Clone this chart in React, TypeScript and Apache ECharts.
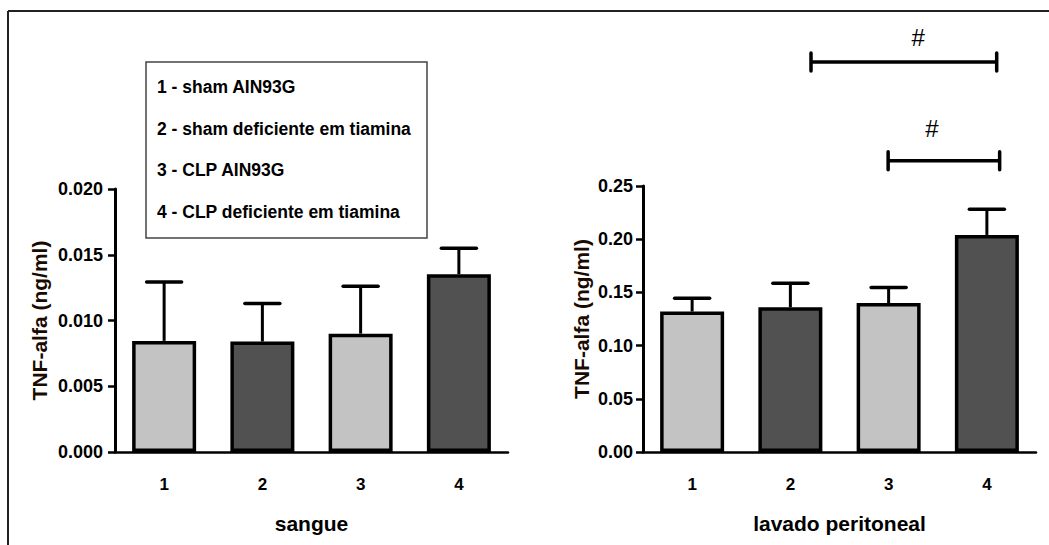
import React, { useEffect, useRef } from "react";
import * as echarts from "echarts";

const categories = ["1", "2", "3", "4"];
const barColors = ["#c3c3c3", "#515151", "#c3c3c3", "#515151"];

const sangueMean = [0.00845, 0.0084, 0.009, 0.01352];
const sangueSEM = [0.00447, 0.0029, 0.0036, 0.00197];

const lavadoMean = [0.132, 0.136, 0.14, 0.204];
const lavadoSEM = [0.0125, 0.0226, 0.0146, 0.0241];

const sangueTicks = { min: 0, max: 0.02, interval: 0.005, decimals: 3 };
const lavadoTicks = { min: 0, max: 0.25, interval: 0.05, decimals: 2 };

const legendLabels = [
  "1 - sham AIN93G",
  "2 - sham deficiente em tiamina",
  "3 - CLP AIN93G",
  "4 - CLP deficiente em tiamina",
];

// significance brackets (category positions, value heights)
const bracketStart = [1.21, 1.995];
const bracketEnd = [3.1, 3.13];
const bracketY = [0.3665, 0.2738];
const hashX = [2.3, 2.44];
const hashY = [0.39, 0.3045];
const hashText = ["#", "#"];

const FONT = "'Liberation Sans', Arial, sans-serif";

function errorRender(params: any, api: any) {
  const i = api.value(0);
  const m = api.value(1);
  const e = api.value(2);
  const p0 = api.coord([i, m]);
  const p1 = api.coord([i, m + e]);
  const hw = 17.5;
  return {
    type: "group",
    children: [
      {
        type: "line",
        shape: { x1: p0[0], y1: p0[1], x2: p1[0], y2: p1[1] },
        style: { stroke: "#000", lineWidth: 3 },
      },
      {
        type: "line",
        shape: { x1: p1[0] - hw, y1: p1[1], x2: p1[0] + hw, y2: p1[1] },
        style: { stroke: "#000", lineWidth: 3.5, lineCap: "round" },
      },
    ],
  };
}

function bracketRender(params: any, api: any) {
  const k = params.dataIndex;
  const y = api.value(1);
  const band = api.size([1, 0])[0];
  const c0 = api.coord([0, y]);
  const x1 = c0[0] + bracketStart[k] * band;
  const x2 = c0[0] + bracketEnd[k] * band;
  const yy = c0[1];
  const hp = api.coord([0, hashY[k]]);
  const hx = c0[0] + hashX[k] * band;
  return {
    type: "group",
    children: [
      { type: "line", shape: { x1, y1: yy, x2, y2: yy }, style: { stroke: "#000", lineWidth: 3.5 } },
      { type: "line", shape: { x1, y1: yy - 9, x2: x1, y2: yy + 9 }, style: { stroke: "#000", lineWidth: 3.5, lineCap: "round" } },
      { type: "line", shape: { x1: x2, y1: yy - 9, x2, y2: yy + 9 }, style: { stroke: "#000", lineWidth: 3.5, lineCap: "round" } },
      {
        type: "text",
        x: hx,
        y: hp[1],
        style: { text: hashText[k], fontSize: 24, fontFamily: FONT, fill: "#000", align: "center", verticalAlign: "middle" },
      },
    ],
  };
}

function makeX(gridIndex: number, name: string) {
  return {
    type: "category",
    gridIndex,
    data: categories,
    name,
    nameLocation: "middle",
    nameGap: 61,
    nameTextStyle: { fontSize: 21, fontWeight: "bold", color: "#000", fontFamily: FONT },
    axisLine: { lineStyle: { color: "#000", width: 2.5 } },
    axisTick: { alignWithLabel: true, length: 7, lineStyle: { color: "#000", width: 2.5 } },
    axisLabel: { fontSize: 17, fontWeight: "bold", color: "#000", margin: 24, fontFamily: FONT },
    splitLine: { show: false },
  };
}

function makeY(gridIndex: number, t: any, gap: number, margin: number) {
  return {
    type: "value",
    gridIndex,
    min: t.min,
    max: t.max,
    interval: t.interval,
    name: "TNF-alfa (ng/ml)",
    nameLocation: "middle",
    nameGap: gap,
    nameTextStyle: { fontSize: 21, fontWeight: "bold", color: "#1a0a00", fontFamily: FONT },
    axisLine: { show: true, lineStyle: { color: "#000", width: 3 } },
    axisTick: { show: true, length: 7, lineStyle: { color: "#000", width: 2.5 } },
    axisLabel: {
      fontSize: 18,
      fontWeight: "bold",
      color: "#000",
      margin,
      fontFamily: FONT,
      formatter: (v: number) => v.toFixed(t.decimals),
    },
    splitLine: { show: false },
  };
}

function barSeries(idx: number, means: number[]) {
  return {
    type: "bar",
    xAxisIndex: idx,
    yAxisIndex: idx,
    barWidth: 64,
    z: 3,
    data: means.map((v, i) => ({
      value: v,
      itemStyle: { color: barColors[i], borderColor: "#000", borderWidth: 3.5 },
    })),
  };
}

function errSeries(idx: number, means: number[], sem: number[]) {
  return {
    type: "custom",
    xAxisIndex: idx,
    yAxisIndex: idx,
    z: 2,
    encode: { x: 0, y: 1 },
    data: means.map((m, i) => [i, m, sem[i]]),
    renderItem: errorRender,
  };
}

export default function App() {
  const ref = useRef<HTMLDivElement>(null);
  useEffect(() => {
    if (!ref.current) return;
    const chart = echarts.init(ref.current, undefined, { renderer: "svg" });
    const legendChildren: any[] = [
      {
        type: "rect",
        shape: { x: 146, y: 62, width: 281, height: 176 },
        style: { fill: "#fff", stroke: "#444", lineWidth: 1.5 },
      },
      ...legendLabels.map((t, i) => ({
        type: "text",
        x: 157,
        y: 87 + i * 41.7,
        style: { text: t, fontSize: 17.5, fontWeight: "bold", fontFamily: FONT, fill: "#000", verticalAlign: "middle" },
      })),
    ];
    chart.setOption({
      animation: false,
      backgroundColor: "#fff",
      grid: [
        { left: 115, top: 189, width: 393, height: 263 },
        { left: 643, top: 186, width: 393, height: 266 },
      ],
      xAxis: [makeX(0, "sangue"), makeX(1, "lavado peritoneal")],
      yAxis: [makeY(0, sangueTicks, 65, 12), makeY(1, lavadoTicks, 51, 10)],
      graphic: [
        { type: "line", shape: { x1: 8, y1: 11, x2: 1049, y2: 11 }, style: { stroke: "#222", lineWidth: 2 } },
        { type: "line", shape: { x1: 8, y1: 11, x2: 8, y2: 545 }, style: { stroke: "#222", lineWidth: 2 } },
        { type: "group", children: legendChildren },
      ],
      series: [
        barSeries(0, sangueMean),
        errSeries(0, sangueMean, sangueSEM),
        barSeries(1, lavadoMean),
        errSeries(1, lavadoMean, lavadoSEM),
        {
          type: "custom",
          xAxisIndex: 1,
          yAxisIndex: 1,
          clip: false,
          encode: { x: 0, y: 1 },
          data: bracketY.map((y) => [0, y]),
          renderItem: bracketRender,
        },
      ],
    });
    return () => chart.dispose();
  }, []);
  return (
    <div
      ref={ref}
      style={{ position: "absolute", left: 0, top: 0, width: 1049, height: 545, background: "#fff" }}
    />
  );
}
